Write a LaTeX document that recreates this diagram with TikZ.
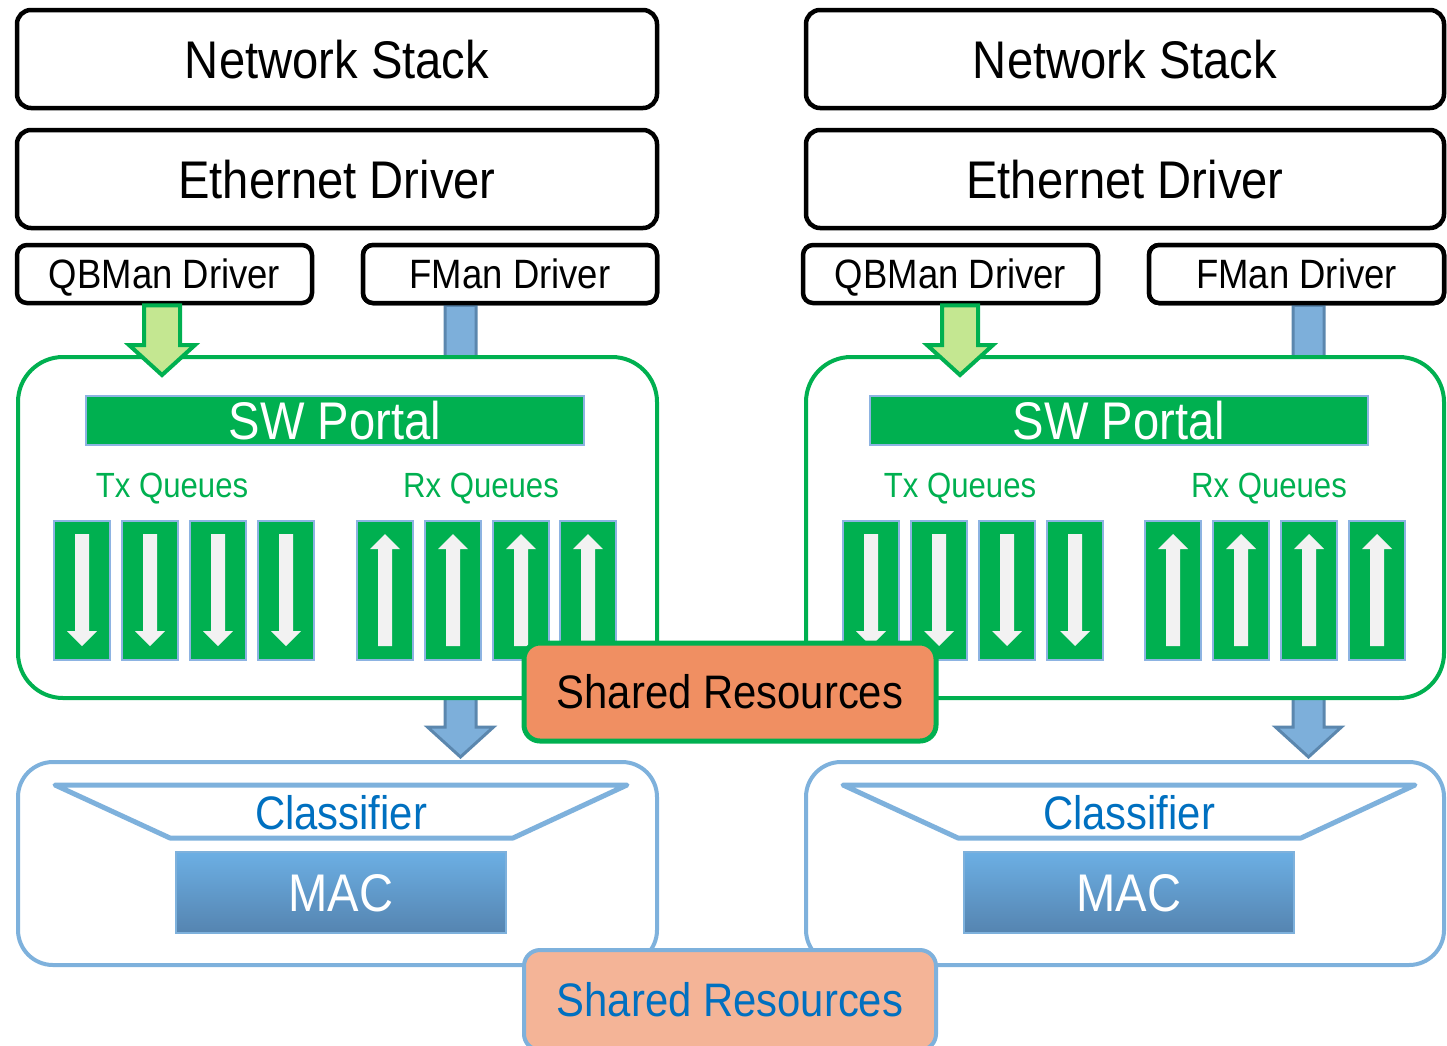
\documentclass[tikz,border=0pt]{standalone}
\usepackage{fontspec}
\setmainfont[FakeStretch=0.89]{Liberation Sans}
\usetikzlibrary{calc}
\definecolor{pgreen}{HTML}{00B050}
\definecolor{lgreen}{HTML}{C4E791}
\definecolor{barfill}{HTML}{7DAFDA}
\definecolor{bardraw}{HTML}{5B87AE}
\definecolor{cblue}{HTML}{7EB1DC}
\definecolor{qedge}{HTML}{8DB3E2}
\definecolor{coral}{HTML}{F08F62}
\definecolor{salmon}{HTML}{F4B497}
\definecolor{tblue}{HTML}{0070C0}
\definecolor{mactop}{HTML}{6CAFE4}
\definecolor{macbot}{HTML}{5584B0}
\definecolor{arrw}{HTML}{F2F2F2}
\newcommand{\fatarrow}[6]{%
  \draw[#1] let \p1=(#2), \p2=(#3) in
    (\x2-#4,\y1) -- (\x2-#4,\y2+#6) -- (\x2-#5,\y2+#6) -- (\x2,\y2)
    -- (\x2+#5,\y2+#6) -- (\x2+#4,\y2+#6) -- (\x2+#4,\y1) -- cycle;}
\newcommand{\qdown}[1]{%
  \fill[arrw] let \p1=(#1.north), \p2=(#1.south) in
    (\x1-7,\y1-14) -- (\x1+7,\y1-14) -- (\x1+7,\y2+30) -- (\x1+15,\y2+30)
    -- (\x1,\y2+15) -- (\x1-15,\y2+30) -- (\x1-7,\y2+30) -- cycle;}
\newcommand{\qup}[1]{%
  \fill[arrw] let \p1=(#1.north), \p2=(#1.south) in
    (\x1-7,\y2+15) -- (\x1+7,\y2+15) -- (\x1+7,\y1-29) -- (\x1+15,\y1-29)
    -- (\x1,\y1-14) -- (\x1-15,\y1-29) -- (\x1-7,\y1-29) -- cycle;}
\begin{document}
\begin{tikzpicture}[x=1pt,y=-1pt,
  f53/.style={font=\fontsize{53}{60}\selectfont, text height=38pt, text depth=0pt},
  f47/.style={font=\fontsize{47}{54}\selectfont, text height=33.7pt, text depth=0pt},
  f41/.style={font=\fontsize{41}{48}\selectfont, text height=29.4pt, text depth=0pt},
  f35/.style={font=\fontsize{35}{40}\selectfont, text height=25pt, text depth=0pt},
  blackbox/.style={draw=black, line width=4.5pt, rounded corners=14pt, fill=white,
    inner sep=0pt, minimum height=98pt, f53},
  drvbox/.style={draw=black, line width=4.5pt, rounded corners=10pt, fill=white,
    inner sep=0pt, minimum height=58pt, f41},
  portalbox/.style={draw=pgreen, line width=4pt, rounded corners=45pt, fill=white,
    minimum height=341pt},
  swbar/.style={fill=pgreen, draw=qedge, line width=1.5pt, text=white, inner sep=0pt,
    minimum width=498pt, minimum height=49pt, f53},
  qlabel/.style={text=pgreen, inner sep=0pt, f35},
  qbox/.style={fill=pgreen, draw=qedge, line width=2pt, minimum width=56pt,
    minimum height=139pt, inner sep=0pt},
  shtop/.style={fill=coral, draw=pgreen, line width=5pt, rounded corners=16pt,
    minimum width=412pt, minimum height=98pt, inner sep=0pt, f47},
  shbot/.style={fill=salmon, draw=cblue, line width=4pt, rounded corners=16pt,
    minimum width=412pt, minimum height=100pt, inner sep=0pt, text=tblue, f47},
  clbox/.style={draw=cblue, line width=4pt, rounded corners=35pt, fill=white,
    minimum height=203pt},
  trap/.style={draw=cblue, line width=5pt, line join=round, fill=white},
  cllabel/.style={text=tblue, inner sep=0pt, f47},
  macbox/.style={top color=mactop, bottom color=macbot, draw=cblue, line width=1.5pt,
    text=white, minimum width=330pt, minimum height=81pt, inner sep=0pt, f53},
  greenarrow/.style={fill=lgreen, draw=pgreen, line width=4pt, line join=miter},
  bluearrow/.style={fill=barfill, draw=bardraw, line width=3pt, line join=miter}]
\useasboundingbox (0,0) rectangle (1447,1045);

% tips of the fat arrows
\coordinate (g1tip) at (162,375);
\coordinate (g2tip) at (960,375);
\coordinate (b1tip) at (460.5,757);
\coordinate (b2tip) at (1308.5,757);

% driver box positions (needed for arrows)
\path (510,274) node[drvbox, minimum width=294pt] (fm1) {FMan Driver};
\path (1296.5,274) node[drvbox, minimum width=295pt] (fm2) {FMan Driver};

% blue fat arrows (behind portal)
\fatarrow{bluearrow}{fm1.south -| b1tip}{b1tip}{15.5}{33}{30}
\fatarrow{bluearrow}{fm2.south -| b2tip}{b2tip}{15.5}{33}{30}

% top black boxes
\node[blackbox, minimum width=640pt] (ns1) at (337,59) {Network Stack};
\node[blackbox, minimum width=638pt] (ns2) at (1125,59) {Network Stack};
\node[blackbox, minimum width=640pt] (ed1) at (337,179) {Ethernet Driver};
\node[blackbox, minimum width=638pt] (ed2) at (1125,179) {Ethernet Driver};
\node[drvbox, minimum width=295pt] (qb1) at (164.5,274) {QBMan Driver};
\node[drvbox, minimum width=295pt] (qb2) at (950.5,274) {QBMan Driver};
\node[drvbox, minimum width=294pt] (fm1b) at (fm1) {FMan Driver};
\node[drvbox, minimum width=295pt] (fm2b) at (fm2) {FMan Driver};

% portals
\node[portalbox, minimum width=639pt] (po1) at (337.5,527.5) {};
\node[portalbox, minimum width=638pt] (po2) at (1125,527.5) {};

% green fat arrows
\fatarrow{greenarrow}{qb1.south -| g1tip}{g1tip}{18}{33}{30}
\fatarrow{greenarrow}{qb2.south -| g2tip}{g2tip}{18}{33}{30}

% SW portal bars and labels
\node[swbar] (sw1) at (335,420.5) {SW Portal};
\node[swbar] (sw2) at (1119,420.5) {SW Portal};
\node[qlabel] (tx1) at (172,485) {Tx Queues};
\node[qlabel] (rx1) at (481,485) {Rx Queues};
\node[qlabel] (tx2) at (960,485) {Tx Queues};
\node[qlabel] (rx2) at (1269,485) {Rx Queues};

% queues
\foreach \qn/\qx in {ta1/82, tb1/150, tc1/218, td1/286,
                   ta2/871, tb2/939, tc2/1007, td2/1075}{
  \node[qbox] (\qn) at (\qx,590.5) {};
  \qdown{\qn}
}
\foreach \qn/\qx in {ra1/385, rb1/453, rc1/521, rd1/588,
                   ra2/1173, rb2/1241, rc2/1309, rd2/1377}{
  \node[qbox] (\qn) at (\qx,590.5) {};
  \qup{\qn}
}

% shared resources (top)
\node[shtop] (sh1) at (730,692) {Shared Resources};

% classifier boxes
\node[clbox, minimum width=639pt] (cl1) at (337.5,863.5) {};
\node[clbox, minimum width=638pt] (cl2) at (1125,863.5) {};
\draw[trap] (55,785) -- (627,785) -- (513,838) -- (170,838) -- cycle;
\draw[trap] (843,785) -- (1415,785) -- (1301,838) -- (958,838) -- cycle;
\node[cllabel] (cla1) at (341,813) {Classifier};
\node[cllabel] (cla2) at (1129,813) {Classifier};
\node[macbox] (mac1) at (341,892.5) {MAC};
\node[macbox] (mac2) at (1129,892.5) {MAC};

% shared resources (bottom)
\node[shbot] (sh2) at (730,1000) {Shared Resources};
\end{tikzpicture}
\end{document}
